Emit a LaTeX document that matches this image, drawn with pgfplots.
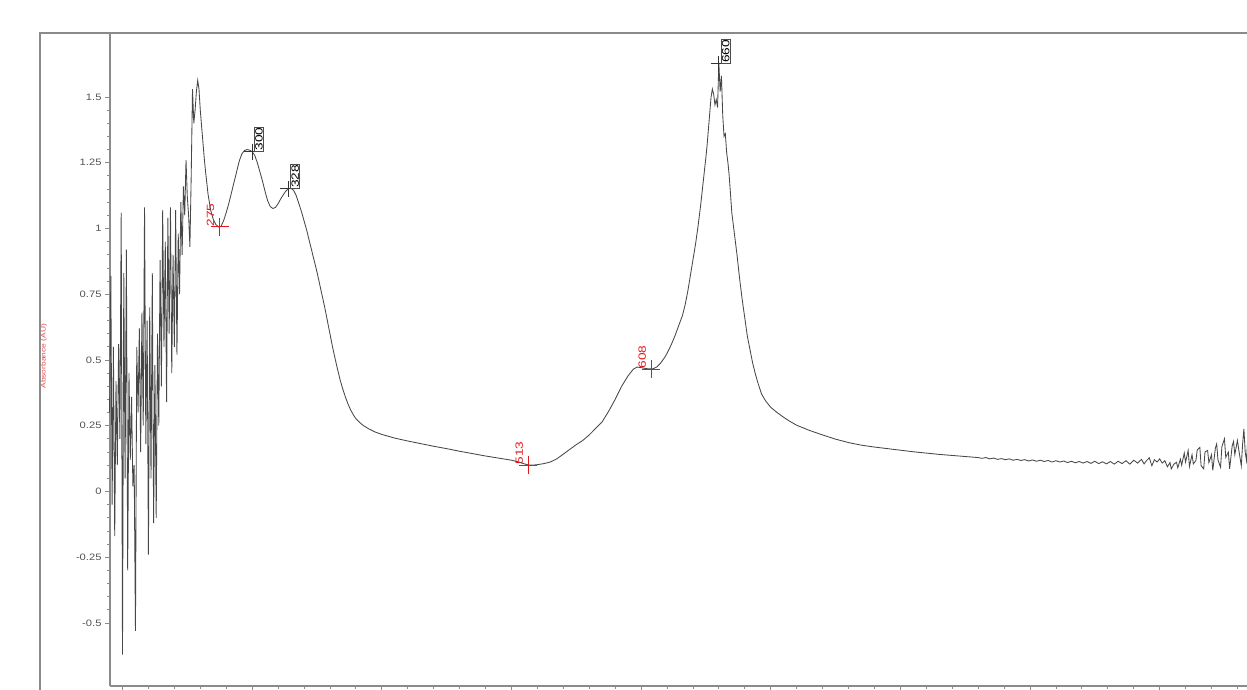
\documentclass[border=0pt]{standalone}
\usepackage{pgfplots}
\pgfplotsset{compat=1.18}
\usepackage{pgfplotstable}
\usepackage{fontspec}
\setmainfont{Liberation Sans}
\newfontfamily\tickfont[FakeStretch=1.2]{Liberation Sans}
\newfontfamily\rotfont[FakeStretch=1.3]{Liberation Sans}
\definecolor{peakred}{HTML}{E8141C}
\definecolor{labelred}{HTML}{E04848}
\definecolor{trace}{HTML}{474747}
\definecolor{axgray}{HTML}{8A8A8A}

% UV-Vis absorption spectrum: wavelength (nm) vs absorbance (AU)
\pgfplotstableread{
wl A
190 0.30
191 0.82
192 -0.05
193 0.55
194 -0.17
195 0.42
196 0.10
197 0.56
198 0.20
199 1.06
200 -0.62
201 0.83
202 0.05
203 0.92
204 -0.30
205 0.45
206 0.12
207 0.36
208 0.02
209 0.10
210 -0.53
211 0.55
212 0.30
213 0.62
214 0.15
215 0.68
216 0.25
217 1.08
218 0.18
219 0.65
220 -0.24
221 0.70
222 0.05
223 0.83
224 -0.12
225 0.48
226 -0.10
227 0.60
228 0.25
229 0.88
230 0.40
231 1.07
232 0.55
233 0.95
234 0.34
235 1.04
236 0.60
237 1.08
238 0.45
239 0.90
240 0.55
241 1.07
242 0.52
243 0.98
244 0.75
245 1.10
246 0.90
247 1.16
248 1.05
249 1.26
250 1.12
251 1.05
252 0.93
253 1.20
254 1.53
255 1.40
256 1.45
257 1.52
258 1.563
259 1.53
260 1.45
261 1.39
262 1.33
263 1.27
264 1.22
266 1.13
268 1.07
270 1.035
272 1.015
274 1.006
276 1.008
278 1.03
280 1.06
282 1.095
284 1.135
286 1.175
288 1.215
290 1.255
292 1.283
294 1.296
296 1.300
298 1.298
300 1.292
302 1.278
304 1.250
306 1.215
308 1.180
310 1.140
312 1.105
314 1.083
316 1.076
318 1.080
320 1.094
322 1.112
324 1.128
326 1.142
328 1.151
330 1.153
332 1.145
334 1.125
336 1.095
338 1.065
340 1.030
342 0.995
344 0.955
346 0.915
348 0.875
350 0.835
352 0.790
354 0.745
356 0.700
358 0.650
360 0.600
362 0.550
364 0.505
366 0.462
368 0.422
370 0.388
372 0.358
374 0.332
376 0.310
378 0.292
380 0.277
383 0.262
386 0.250
390 0.238
395 0.226
400 0.217
410 0.203
420 0.192
430 0.182
440 0.172
450 0.163
460 0.153
470 0.144
480 0.135
490 0.127
500 0.119
505 0.113
510 0.105
513 0.101
516 0.100
520 0.102
525 0.106
530 0.112
535 0.124
540 0.142
545 0.160
550 0.178
555 0.194
560 0.215
565 0.240
570 0.265
575 0.305
580 0.350
585 0.400
590 0.440
594 0.465
597 0.473
600 0.471
603 0.468
606 0.466
609 0.466
612 0.473
615 0.488
618 0.508
620 0.525
623 0.555
626 0.590
629 0.630
632 0.670
634 0.710
636 0.760
638 0.820
640 0.880
642 0.940
644 1.010
646 1.090
648 1.180
650 1.270
651 1.320
652 1.380
653 1.440
654 1.500
655 1.530
656 1.510
657 1.470
658 1.490
659 1.460
660 1.630
661 1.520
662 1.580
663 1.430
664 1.350
665 1.360
666 1.290
667 1.250
668 1.200
669 1.130
670 1.060
672 0.980
674 0.900
676 0.810
678 0.730
680 0.660
682 0.590
684 0.540
686 0.490
688 0.450
690 0.415
693 0.370
696 0.345
700 0.320
705 0.300
710 0.282
715 0.266
720 0.252
730 0.232
740 0.215
750 0.199
760 0.186
770 0.176
780 0.169
790 0.163
800 0.157
810 0.151
820 0.146
830 0.141
840 0.137
850 0.133
860 0.129
863 0.126
866 0.129
869 0.124
872 0.127
875 0.122
878 0.125
881 0.121
884 0.124
887 0.119
890 0.122
893 0.118
896 0.121
899 0.116
902 0.120
905 0.115
908 0.119
911 0.114
914 0.118
917 0.112
920 0.117
923 0.112
926 0.116
929 0.110
932 0.115
935 0.109
938 0.114
941 0.108
944 0.114
947 0.107
950 0.115
953 0.106
956 0.113
959 0.105
962 0.114
965 0.104
968 0.115
971 0.106
974 0.117
977 0.104
980 0.119
983 0.108
986 0.122
988 0.105
990 0.118
992 0.128
994 0.098
996 0.121
998 0.112
1000 0.124
1002 0.108
1004 0.117
1006 0.094
1008 0.110
1009 0.086
1011 0.104
1013 0.111
1014 0.090
1016 0.123
1017 0.100
1019 0.146
1020 0.112
1022 0.156
1023 0.095
1025 0.140
1026 0.105
1028 0.118
1029 0.158
1031 0.168
1032 0.098
1034 0.086
1035 0.150
1037 0.156
1038 0.110
1040 0.140
1041 0.080
1043 0.165
1044 0.181
1045 0.120
1047 0.092
1048 0.170
1050 0.200
1051 0.130
1053 0.150
1054 0.086
1056 0.175
1057 0.190
1058 0.140
1060 0.194
1061 0.160
1063 0.098
1064 0.180
1065 0.238
1066 0.150
1067 0.118
1068 0.200
}\spectrum

\begin{document}
\begin{tikzpicture}[x=1pt,y=1pt]
\useasboundingbox (0,0) rectangle (1247,690);
\clip (0,0) rectangle (1247,690);
% outer frame of the plot window
\draw[axgray, line width=1.2pt] (40,-5) -- (40,657) -- (1260,657);
\begin{axis}[
  at={(110pt,4pt)}, anchor=south west,
  scale only axis, width=1179.2pt, height=653pt,
  xmin=190.36, xmax=1100, ymin=-0.7395, ymax=1.7432,
  axis x line*=bottom, axis y line*=left,
  axis line style={draw=axgray, line width=1.1pt, -},
  tick align=outside,
  major tick length=5pt, minor tick length=3pt,
  every tick/.style={axgray, line width=0.8pt},
  xtick={200,300,400,500,600,700,800,900,1000,1100},
  minor x tick num=4,
  xticklabels={},
  ytick={-0.5,-0.25,0,0.25,0.5,0.75,1,1.25,1.5},
  yticklabels={-0.5,-0.25,0,0.25,0.5,0.75,1,1.25,1.5},
  minor y tick num=4,
  yticklabel style={font=\tickfont\fontsize{9.3}{10}\selectfont, text=black!68},
  ylabel={Absorbance (AU)},
  ylabel style={at={(axis description cs:-0.056,0.505)}, anchor=center,
    font=\rotfont\fontsize{6.5}{7}\selectfont, text=labelred},
  clip=false,
]
\addplot[trace, line width=0.85pt, mark=none] table[x=wl, y=A] {\spectrum};

% minima / shoulders picked in red
\addplot[only marks, mark=+, mark size=9pt, peakred,
  mark options={line width=0.8pt},
  point meta=explicit symbolic, nodes near coords,
  every node near coord/.style={font=\rotfont\fontsize{10.5}{11}\selectfont,
    text=peakred, inner sep=0pt, xshift=-5pt, rotate=90, anchor=south west}]
  coordinates {(275,1.007) [275] (513,0.101) [513] (608,0.466) [608]};

% maxima picked in black, boxed labels
\addplot[only marks, mark=+, mark size=8pt, black!80,
  mark options={line width=0.8pt},
  point meta=explicit symbolic, nodes near coords,
  every node near coord/.style={font=\rotfont\fontsize{10.5}{11}\selectfont,
    text=black, draw=black!70, line width=0.6pt, inner sep=0.8pt,
    xshift=2pt, rotate=90, anchor=north west}]
  coordinates {(300,1.292) [300] (328,1.151) [328] (660,1.626) [660]};
\end{axis}
\end{tikzpicture}
\end{document}
